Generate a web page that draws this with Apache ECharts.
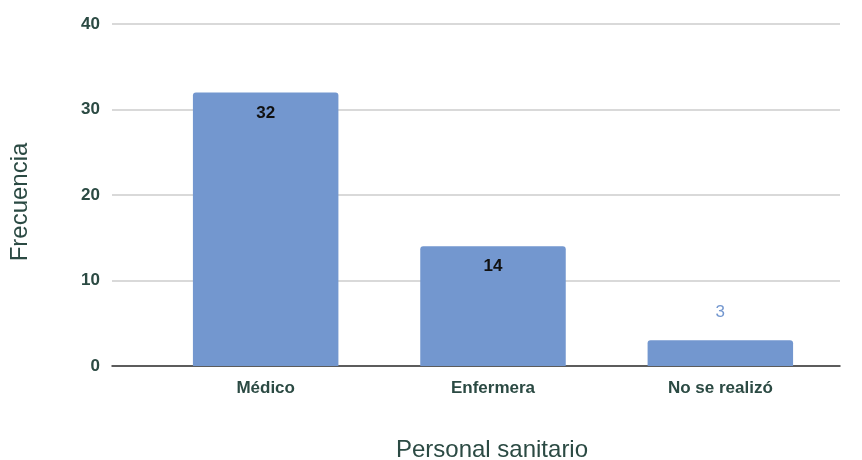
<!DOCTYPE html>
<html>
<head>
<meta charset="utf-8">
<script src="https://cdn.jsdelivr.net/npm/echarts@6/dist/echarts.min.js"></script>
<style>
  html, body { margin: 0; padding: 0; background: #fff; }
  #chart { width: 862px; height: 460px; }
</style>
</head>
<body>
<div id="chart"></div>
<script>
// Personal sanitario vs. frecuencia
const categories = ['Médico', 'Enfermera', 'No se realizó'];
const values = [32, 14, 3];
const yTicks = { min: 0, max: 40, interval: 10 };

const barColor = '#7397cf';
const textColor = '#2b4a43';
const font = '"Liberation Sans", Arial, sans-serif';

const chart = echarts.init(document.getElementById('chart'));

// Tall bars carry their label inside the top edge; short ones get it above, in the bar colour
const seriesData = values.map(v => {
  const inside = v >= 10;
  return {
    value: v,
    label: inside
      ? { position: 'insideTop', distance: 12, color: '#111' }
      : { position: 'top', distance: 20, color: barColor, fontWeight: 'normal' }
  };
});

chart.setOption({
  animation: false,
  textStyle: { fontFamily: font },
  // grid 0: frame (gridlines, baseline, value labels); grid 1: the bars, inset horizontally
  grid: [
    { left: 112, right: 22, top: 24, bottom: 94, containLabel: false, outerBoundsMode: 'none' },
    { left: 152, right: 28, top: 24, bottom: 94, containLabel: false, outerBoundsMode: 'none' }
  ],
  xAxis: [
    {
      gridIndex: 0,
      type: 'category',
      data: categories,
      axisLine: { lineStyle: { color: '#333', width: 1.5 } },
      axisTick: { show: false },
      axisLabel: { show: false },
      name: 'Personal sanitario',
      nameLocation: 'middle',
      nameGap: 72,
      nameTextStyle: { fontSize: 24, color: textColor, padding: [0, 0, 0, 32] }
    },
    {
      gridIndex: 1,
      type: 'category',
      data: categories,
      axisLine: { show: false },
      axisTick: { show: false },
      axisLabel: { fontSize: 17, fontWeight: 'bold', color: textColor, margin: 14 }
    }
  ],
  yAxis: [
    {
      gridIndex: 0,
      type: 'value',
      min: yTicks.min,
      max: yTicks.max,
      interval: yTicks.interval,
      name: 'Frecuencia',
      nameLocation: 'middle',
      nameGap: 80,
      nameTextStyle: { fontSize: 24, color: textColor, padding: [0, 14, 0, 0] },
      axisLine: { show: false },
      axisTick: { show: false },
      axisLabel: { fontSize: 17, fontWeight: 'bold', color: textColor, margin: 12 },
      splitLine: { lineStyle: { color: '#cccccc', width: 1.5 } }
    },
    {
      gridIndex: 1,
      type: 'value',
      min: yTicks.min,
      max: yTicks.max,
      interval: yTicks.interval,
      show: false,
      splitLine: { show: false }
    }
  ],
  series: [{
    type: 'bar',
    xAxisIndex: 1,
    yAxisIndex: 1,
    data: seriesData,
    barWidth: '64%',
    itemStyle: { color: barColor, borderRadius: [3, 3, 0, 0] },
    label: { show: true, fontSize: 17, fontWeight: 'bold', fontFamily: font }
  }]
});
</script>
</body>
</html>
